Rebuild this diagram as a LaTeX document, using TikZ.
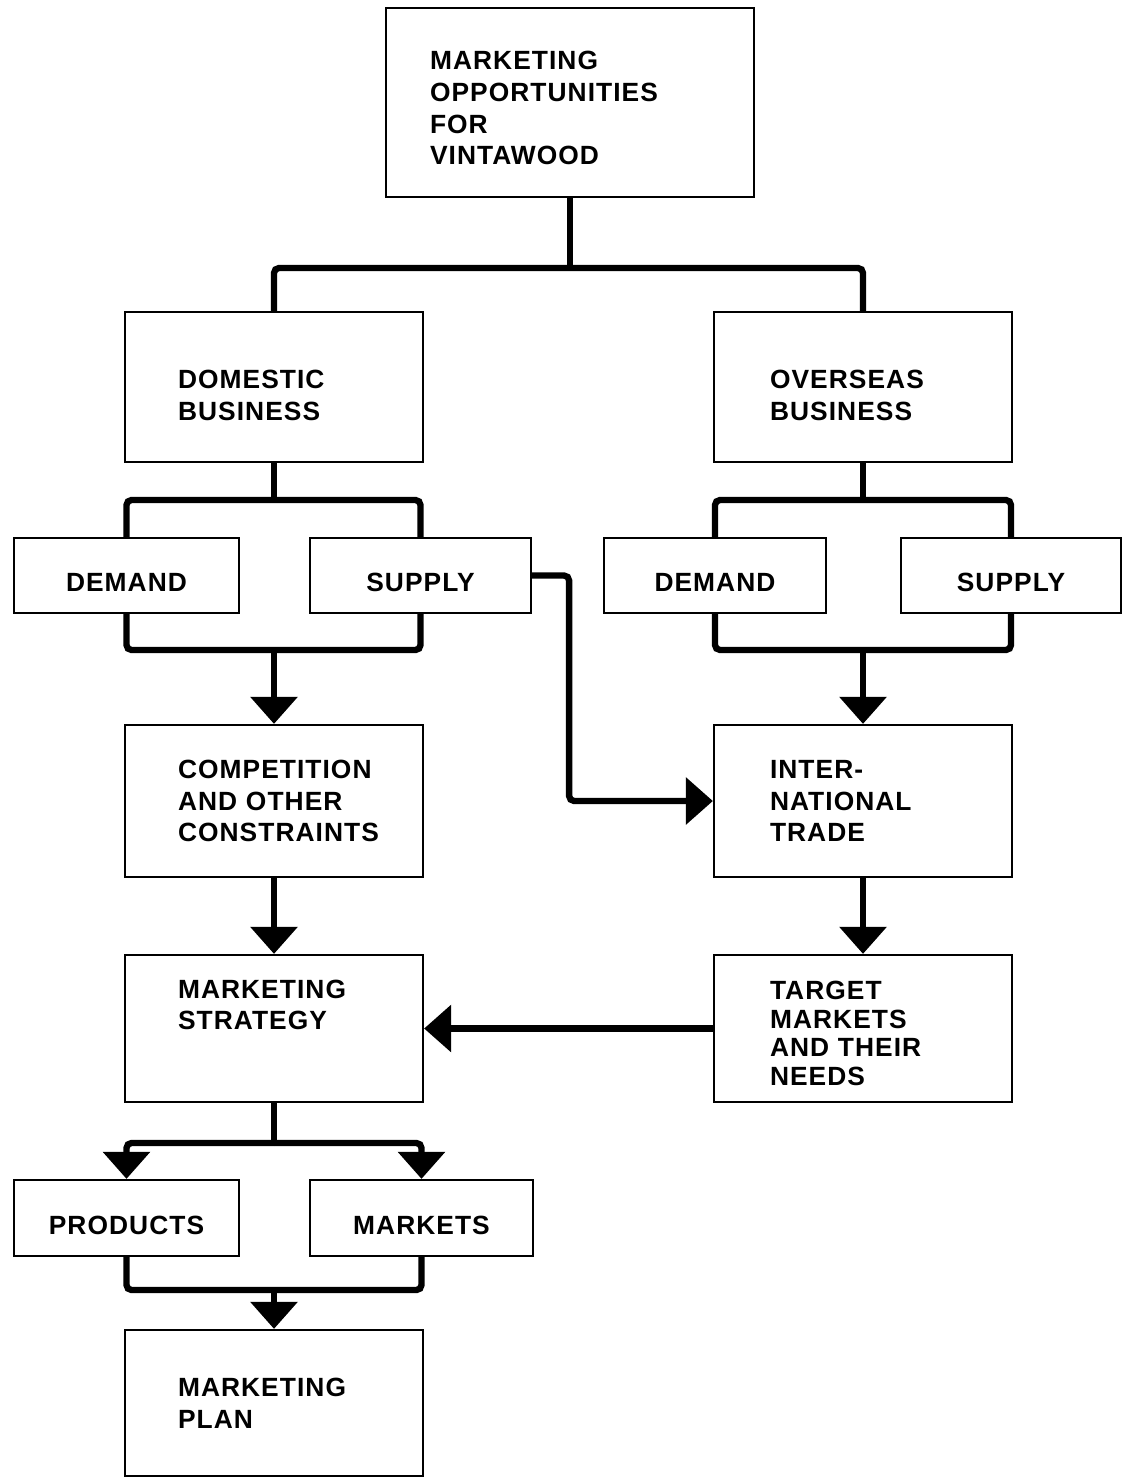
\documentclass[tikz,border=0pt]{standalone}
\usepackage{fontspec}
\setmainfont{Liberation Sans}[LetterSpace=4]
\usetikzlibrary{arrows.meta}

\begin{document}
\begin{tikzpicture}[
		x=0.02cm, y=-0.02cm,
		>={Triangle[length=5.4mm,width=9.2mm]},
		box/.style   ={draw,line width=1.3pt,inner sep=0pt,font=\fontsize{15pt}{18pt}\selectfont\bfseries},
		textbox/.style={box,align=left,minimum width=5.96cm,minimum height=3cm,text width=3.84cm},
		rtextbox/.style={textbox,text width=3.72cm},
		item/.style  ={box,minimum height=1.5cm,text height=18.7pt,text depth=0pt},
		bar/.style   ={draw,line width=3.6pt,rounded corners=1mm},
		flow/.style  ={bar,->}
		]

		\useasboundingbox (0,0) rectangle (1122,1477);

		% =====================================================
		% Two columns under the top box:
		%   left = domestic business | right = overseas business
		% =====================================================

		% ---- top box ----
		\node[box,align=left,minimum width=7.36cm,minimum height=3.78cm,text width=5.6cm]
			(top) at (570,102.5)
			{\rule{0pt}{17pt}MARKETING\\OPPORTUNITIES\\FOR\\VINTAWOOD};

		% ---- business boxes ----
		\node[textbox]  (dom) at (274,387) {\rule{0pt}{20pt}DOMESTIC\\BUSINESS};
		\node[rtextbox] (ovs) at (863,387) {\rule{0pt}{20pt}OVERSEAS\\BUSINESS};

		% ---- demand / supply ----
		\node[item,minimum width=4.5cm]  (dem1) at (126.5,575.5) {DEMAND};
		\node[item,minimum width=4.42cm] (sup1) at (420.5,575.5) {SUPPLY};
		\node[item,minimum width=4.44cm] (dem2) at (715,575.5)   {DEMAND};
		\node[item,minimum width=4.4cm]  (sup2) at (1011,575.5)  {SUPPLY};

		% ---- middle row ----
		\node[textbox,minimum height=3.04cm]  (comp) at (274,801) {COMPETITION\\AND OTHER\\CONSTRAINTS};
		\node[rtextbox,minimum height=3.04cm] (intl) at (863,801) {INTER-\\NATIONAL\\TRADE};

		% ---- strategy / target markets ----
		\node[textbox,minimum height=2.94cm]  (strat)  at (274,1028.5) {MARKETING\\STRATEGY\\[9pt]\mbox{}};
		\node[rtextbox,minimum height=2.94cm,font=\fontsize{15pt}{16.4pt}\selectfont\bfseries]
			(target) at (863,1028.5) {\rule{0pt}{16pt}TARGET\\MARKETS\\AND THEIR\\NEEDS};

		% ---- products / markets ----
		\node[item,minimum width=4.5cm,minimum height=1.52cm]  (prod) at (126.5,1218) {PRODUCTS};
		\node[item,minimum width=4.46cm,minimum height=1.52cm] (mkts) at (421.5,1218) {MARKETS};

		% ---- plan ----
		\node[textbox,minimum height=2.92cm] (plan) at (274,1403) {MARKETING\\PLAN};

		% ---- junction points ----
		\coordinate (j0) at (570,268);
		\coordinate (j1) at (274,500);
		\coordinate (j2) at (274,650);
		\coordinate (j3) at (863,500);
		\coordinate (j4) at (863,650);
		\coordinate (j5) at (274,1143);
		\coordinate (j6) at (274,1290);

		% ---- top -> business boxes ----
		\draw[bar] (top.south) -- (j0);
		\draw[bar] (dom.north) |- (j0) -| (ovs.north);

		% ---- domestic -> demand / supply -> competition ----
		\draw[bar] (dom.south) -- (j1);
		\draw[bar] (dem1.north) |- (j1) -| (sup1.north);
		\draw[bar] (dem1.south) |- (j2) -| (sup1.south);
		\draw[flow] (j2) -- (comp.north);

		% ---- overseas -> demand / supply -> trade ----
		\draw[bar] (ovs.south) -- (j3);
		\draw[bar] (dem2.north) |- (j3) -| (sup2.north);
		\draw[bar] (dem2.south) |- (j4) -| (sup2.south);
		\draw[flow] (j4) -- (intl.north);

		% ---- domestic supply -> international trade ----
		\draw[flow] (sup1.east) -- ++(37,0) |- (intl.west);

		% ---- down the columns ----
		\draw[flow] (comp.south) -- (strat.north);
		\draw[flow] (intl.south) -- (target.north);
		\draw[flow] (target.west) -- (strat.east);

		% ---- strategy -> products / markets -> plan ----
		\draw[bar] (strat.south) -- (j5);
		\draw[flow] (j5) -| (prod.north);
		\draw[flow] (j5) -| (mkts.north);
		\draw[bar] (prod.south) |- (j6) -| (mkts.south);
		\draw[flow] (j6) -- (plan.north);

	\end{tikzpicture}
\end{document}
